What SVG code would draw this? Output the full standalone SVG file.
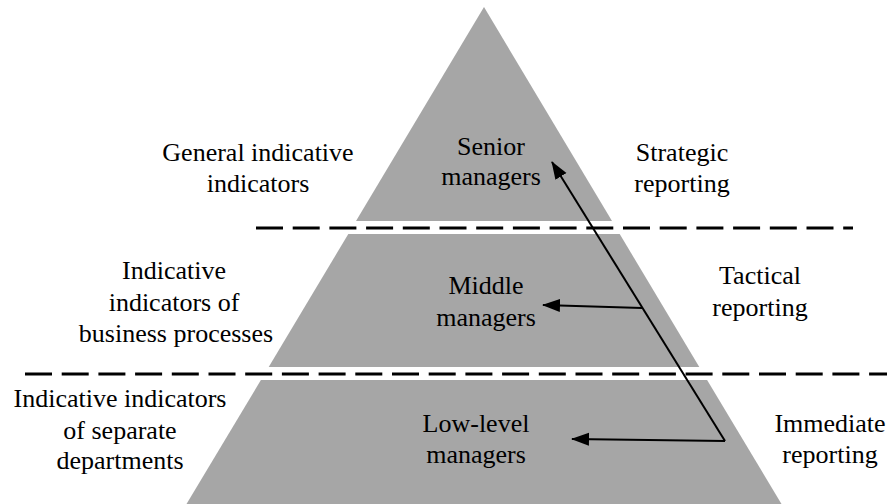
<svg xmlns="http://www.w3.org/2000/svg" width="887" height="504" viewBox="0 0 887 504">
  <defs>
    <marker id="arrow" markerUnits="userSpaceOnUse" markerWidth="20" markerHeight="14" refX="17" refY="7" orient="auto">
      <path d="M0,0.5 L18,7 L0,13.5 z" fill="#000"/>
    </marker>
  </defs>
  <rect width="887" height="504" fill="#fff"/>

  <g id="tier-senior">
    <polygon fill="#a6a6a6" points="484,7 612,221 356,221"/>
    <text x="491" y="155" font-family="Liberation Serif" font-size="26" text-anchor="middle">Senior</text>
    <text x="491" y="185" font-family="Liberation Serif" font-size="26" text-anchor="middle">managers</text>
  </g>
  <g id="tier-middle">
    <polygon fill="#a6a6a6" points="348.3,234 619.7,234 699.3,367 268.7,367"/>
    <text x="486" y="294" font-family="Liberation Serif" font-size="26" text-anchor="middle">Middle</text>
    <text x="486" y="326" font-family="Liberation Serif" font-size="26" text-anchor="middle">managers</text>
  </g>
  <g id="tier-low">
    <polygon fill="#a6a6a6" points="260.9,380 707.1,380 781.5,504 186.5,504"/>
    <text x="476" y="432" font-family="Liberation Serif" font-size="26" text-anchor="middle">Low-level</text>
    <text x="476" y="463" font-family="Liberation Serif" font-size="26" text-anchor="middle">managers</text>
  </g>

  <g id="dividers" stroke="#000" stroke-width="3" stroke-dasharray="27 9.7" fill="none">
    <line x1="256" y1="228" x2="853" y2="228"/>
    <line x1="25" y1="374" x2="887" y2="374"/>
  </g>

  <g id="label-general">
    <text x="258" y="161" font-family="Liberation Serif" font-size="26" text-anchor="middle">General indicative</text>
    <text x="258" y="192" font-family="Liberation Serif" font-size="26" text-anchor="middle">indicators</text>
  </g>
  <g id="label-business">
    <text x="174" y="279" font-family="Liberation Serif" font-size="26" text-anchor="middle">Indicative</text>
    <text x="174" y="311" font-family="Liberation Serif" font-size="26" text-anchor="middle">indicators of</text>
    <text x="176" y="342" font-family="Liberation Serif" font-size="26" text-anchor="middle">business processes</text>
  </g>
  <g id="label-departments">
    <text x="120" y="407" font-family="Liberation Serif" font-size="26" text-anchor="middle">Indicative indicators</text>
    <text x="120" y="439" font-family="Liberation Serif" font-size="26" text-anchor="middle">of separate</text>
    <text x="120" y="469" font-family="Liberation Serif" font-size="26" text-anchor="middle">departments</text>
  </g>
  <g id="label-strategic">
    <text x="682" y="161" font-family="Liberation Serif" font-size="26" text-anchor="middle">Strategic</text>
    <text x="682" y="192" font-family="Liberation Serif" font-size="26" text-anchor="middle">reporting</text>
  </g>
  <g id="label-tactical">
    <text x="760" y="284" font-family="Liberation Serif" font-size="26" text-anchor="middle">Tactical</text>
    <text x="760" y="316" font-family="Liberation Serif" font-size="26" text-anchor="middle">reporting</text>
  </g>
  <g id="label-immediate">
    <text x="830" y="432" font-family="Liberation Serif" font-size="26" text-anchor="middle">Immediate</text>
    <text x="830" y="463" font-family="Liberation Serif" font-size="26" text-anchor="middle">reporting</text>
  </g>

  <g id="connectors" stroke="#000" stroke-width="2" fill="none">
    <line x1="725" y1="441" x2="552" y2="162" marker-end="url(#arrow)"/>
    <line x1="642" y1="308" x2="543" y2="305" marker-end="url(#arrow)"/>
    <line x1="725" y1="441" x2="572" y2="439" marker-end="url(#arrow)"/>
  </g>
</svg>
